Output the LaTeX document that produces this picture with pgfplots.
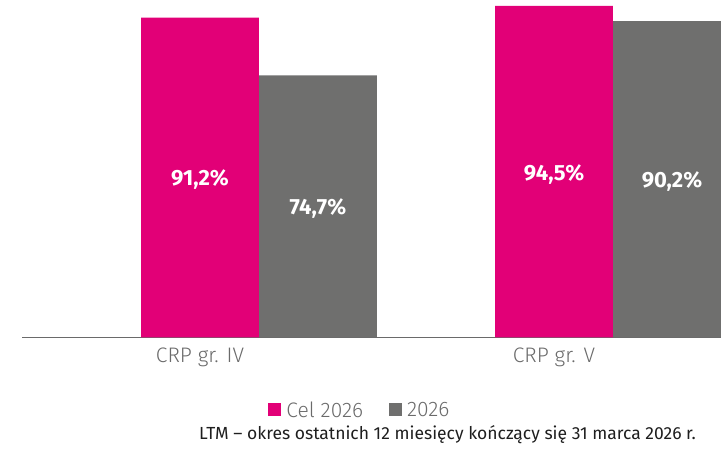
\documentclass[border=0pt]{standalone}
\usepackage{fontspec}
\setmainfont{Fira Sans}
\newfontfamily\firalight{Fira Sans Light}
\usepackage{pgfplots}
\pgfplotsset{compat=1.18}
\definecolor{celPink}{HTML}{E20077}
\definecolor{barGray}{HTML}{6F6F6E}
\definecolor{labGray}{HTML}{6A6A6A}
\definecolor{noteInk}{HTML}{1E1E1E}
\begin{document}
\begin{tikzpicture}
  % 1pt = 1px of the 721x449 reference; axis origin at pixel (22, 337.5)
  \path[use as bounding box] (-22pt,-111.5pt) rectangle (699pt,337.5pt);
  \begin{axis}[
      at={(0,0)}, anchor=south west,
      scale only axis, width=699pt, height=337.5pt,
      xmin=-0.6695, xmax=1.3051, ymin=0, ymax=96.2,
      ybar, bar width=0.3333,
      axis x line*=bottom, hide y axis,
      x axis line style={draw=labGray, line width=1.4pt},
      major tick length=0pt,
      xtick={-0.16667,0.83333},
      xticklabels={CRP gr. IV, CRP gr. V},
      xticklabel style={font=\firalight\fontsize{21}{21}\selectfont, text=labGray, yshift=-7pt},
      legend image code/.code={\fill[#1] (0pt,-6.5pt) rectangle (13pt,6.5pt);},
      legend columns=2,
      legend style={at={(0.4835,-72.5pt)}, anchor=center, draw=none, fill=none,
        font=\firalight\fontsize{21}{21}\selectfont, text=labGray,
        /tikz/every odd column/.append style={column sep=3pt},
        /tikz/every even column/.append style={column sep=24pt}},
    ]
    \addplot[fill=celPink, draw=none, bar shift=-0.16667] coordinates {(0,91.2) (1,94.5)};
    \addplot[fill=barGray, draw=none, bar shift=0.16667] coordinates {(0,74.7) (1,90.2)};
    \legend{Cel 2026, 2026}
    \begin{scope}[every node/.style={text=white, font=\bfseries\fontsize{22}{22}\selectfont, yshift=-2.5pt}]
      \node at (axis cs:-0.16667,45.6) {91,2\%};
      \node at (axis cs:0.16667,37.35) {74,7\%};
      \node at (axis cs:0.83333,47.25) {94,5\%};
      \node at (axis cs:1.16667,45.1) {90,2\%};
    \end{scope}
  \end{axis}
  \node[anchor=base east, text=noteInk, font=\fontsize{17.5}{17.5}\selectfont, inner sep=0pt]
    at (674pt,-102.5pt) {LTM – okres ostatnich 12 miesięcy kończący się 31 marca 2026 r.};
\end{tikzpicture}
\end{document}
